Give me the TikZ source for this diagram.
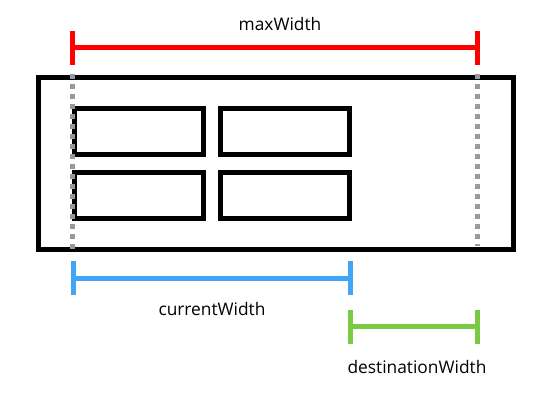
\documentclass[tikz,border=0pt]{standalone}
\usepackage{fontspec}
\setmainfont{Open Sans}
\usetikzlibrary{arrows.meta}
\definecolor{maxred}{HTML}{FF0000}
\definecolor{curblue}{HTML}{42A5F5}
\definecolor{destgreen}{HTML}{7AC943}
\definecolor{guidegray}{HTML}{999999}

\begin{document}
\begin{tikzpicture}[x=0.75pt, y=-0.75pt,
		frame/.style={draw=black, line width=3.75pt},
		measure/.style={line width=3.75pt, {Bar[width=25.5pt]}-{Bar[width=25.5pt]}},
		guide/.style={draw=guidegray, line width=3.75pt, dash pattern=on 3.75pt off 3.75pt},
		caption/.style={font=\fontsize{13pt}{15pt}\selectfont, inner sep=0pt, anchor=base}]
				\useasboundingbox (0,0) rectangle (546,403);
				\draw[frame] (38.5,77.5) rectangle (513.5,249);
				\foreach \x in {74.5,220.5} {
					\foreach \y in {108.5,172} {
						\draw[frame] (\x,\y) rectangle ++(128.5,46);
					}
				}
				% measuring lines
				\coordinate (maxL) at (70,48);
				\coordinate (maxR) at (479.5,48);
				\coordinate (curL) at (71,278);
				\coordinate (curR) at (352.5,278);
				\coordinate (destL) at (348,326.5);
				\coordinate (destR) at (480,326.5);
				\draw[measure, maxred] (maxL) -- (maxR);
				\draw[measure, curblue] (curL) -- (curR);
				\draw[measure, destgreen] (destL) -- (destR);
				% guides
				\coordinate (guideLtop) at (72.5,74);
				\coordinate (guideLbot) at (72.5,252);
				\coordinate (guideRtop) at (477.5,74);
				\coordinate (guideRbot) at (477.5,246);
				\draw[guide] (guideLtop) -- (guideLbot);
				\draw[guide] (guideRtop) -- (guideRbot);
				\node[caption] (maxlabel) at (280,30.7) {maxWidth};
				\node[caption] (curlabel) at (212,315.7) {currentWidth};
				\node[caption] (destlabel) at (417,373) {destinationWidth};
			\end{tikzpicture}
\end{document}
